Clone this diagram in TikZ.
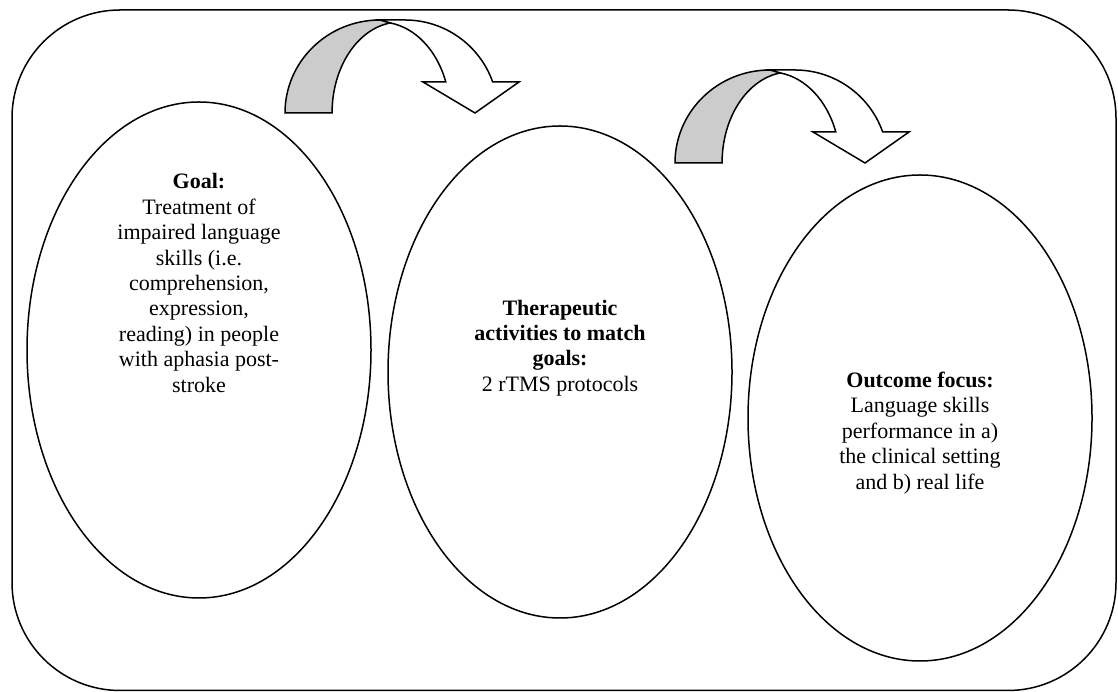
\documentclass[tikz,border=0pt]{standalone}
\usepackage{fontspec}
\setmainfont{Liberation Serif}
\usetikzlibrary{shapes.geometric}
\definecolor{shadegray}{RGB}{204,204,204}
\tikzset{
  line/.style={line width=1.5pt, draw=black},
  bubble/.style={line, ellipse, inner sep=0pt, minimum width=344pt},
  txt/.style={align=center, inner sep=0pt, font=\fontsize{22}{25.4}\selectfont},
  curvarrow/.pic={
    \draw[line, fill=white, line join=miter]
      (95,93) -- (120,93) arc[start angle=90, end angle=19.5, x radius=93, y radius=93]
      -- (234,31) -- (190,0) -- (138,31) -- (160.8,31)
      arc[start angle=19.9, end angle=81.8, x radius=70, y radius=91] -- cycle;
    \draw[line, fill=shadegray, line join=miter]
      (0,0) arc[start angle=180, end angle=90, x radius=95, y radius=93]
      -- (105,90) arc[start angle=98.5, end angle=180, x radius=68, y radius=91] -- cycle;
  }
}
\begin{document}
\begin{tikzpicture}[x=1pt, y=1pt]
\useasboundingbox (0,0) rectangle (1118,692);
\draw[line, rounded corners=108pt] (12,1.5) rectangle (1116,682);

\node[bubble, minimum height=496pt] (e1) at (199,342) {};
\node[bubble, minimum height=492pt] (e2) at (560,320) {};
\node[bubble, minimum height=486pt] (e3) at (920,274) {};

\node[txt] (t1) at (199,409) {\textbf{Goal:}\\Treatment of\\impaired language\\skills (i.e.\\comprehension,\\expression,\\reading) in people\\with aphasia post-\\stroke};
\node[txt] (t2) at (560,344) {\textbf{Therapeutic}\\\textbf{activities to match}\\\textbf{goals:}\\2 rTMS protocols};
\node[txt] (t3) at (920,259) {\textbf{Outcome focus:}\\Language skills\\performance in a)\\the clinical setting\\and b) real life};

\pic at (285,579) {curvarrow};
\pic at (675,529) {curvarrow};
\end{tikzpicture}
\end{document}
